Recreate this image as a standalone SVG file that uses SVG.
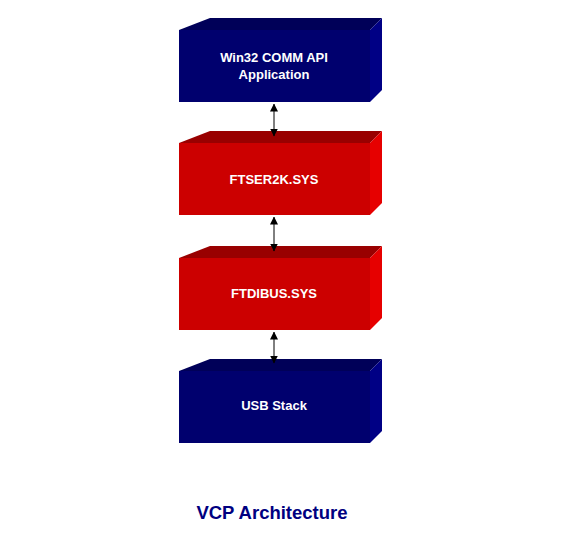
<svg xmlns="http://www.w3.org/2000/svg" width="561" height="559" viewBox="0 0 561 559">
<defs>
<style>
.lbl{font-family:"Liberation Sans",Arial,sans-serif;font-weight:bold;font-size:13px;fill:#ffffff;text-anchor:middle}
.title{font-family:"Liberation Sans",Arial,sans-serif;font-weight:bold;font-size:18.5px;fill:#000080;text-anchor:middle}
.nf{fill:#00006e}.nt{fill:#000058}.ns{fill:#000085}
.rf{fill:#cc0000}.rt{fill:#990000}.rs{fill:#e60000}
.conn{stroke:#000;stroke-width:1;fill:none}
</style>
<marker id="ah" viewBox="0 0 8 8" refX="7.5" refY="4" markerWidth="8" markerHeight="8" markerUnits="userSpaceOnUse" orient="auto-start-reverse">
<path d="M0,0 L8,4 L0,8 z" fill="#000"/>
</marker>
</defs>
<rect width="561" height="559" fill="#ffffff"/>
<g id="app">
<polygon class="nt" points="179,30 370,30 382,18 210,18"/>
<polygon class="ns" points="370,30 382,18 382,90 370,102"/>
<rect class="nf" x="179" y="30" width="191" height="72"/>
<text class="lbl" x="274" y="62">Win32 COMM API</text>
<text class="lbl" x="274" y="79">Application</text>
</g>
<g id="ftser">
<polygon class="rt" points="179,143 370,143 382,131 210,131"/>
<polygon class="rs" points="370,143 382,131 382,203 370,215"/>
<rect class="rf" x="179" y="143" width="191" height="72"/>
<text class="lbl" x="274" y="184">FTSER2K.SYS</text>
</g>
<g id="ftdibus">
<polygon class="rt" points="179,258 370,258 382,246 210,246"/>
<polygon class="rs" points="370,258 382,246 382,318 370,330"/>
<rect class="rf" x="179" y="258" width="191" height="72"/>
<text class="lbl" x="274" y="298">FTDIBUS.SYS</text>
</g>
<g id="usb">
<polygon class="nt" points="179,371 370,371 382,359 210,359"/>
<polygon class="ns" points="370,371 382,359 382,431 370,443"/>
<rect class="nf" x="179" y="371" width="191" height="72"/>
<text class="lbl" x="274" y="410">USB Stack</text>
</g>
<g id="connectors">
<line class="conn" x1="274" y1="104" x2="274" y2="136" marker-start="url(#ah)" marker-end="url(#ah)"/>
<line class="conn" x1="274" y1="217" x2="274" y2="251" marker-start="url(#ah)" marker-end="url(#ah)"/>
<line class="conn" x1="274" y1="332" x2="274" y2="363" marker-start="url(#ah)" marker-end="url(#ah)"/>
</g>
<text class="title" x="272" y="519">VCP Architecture</text>
</svg>
